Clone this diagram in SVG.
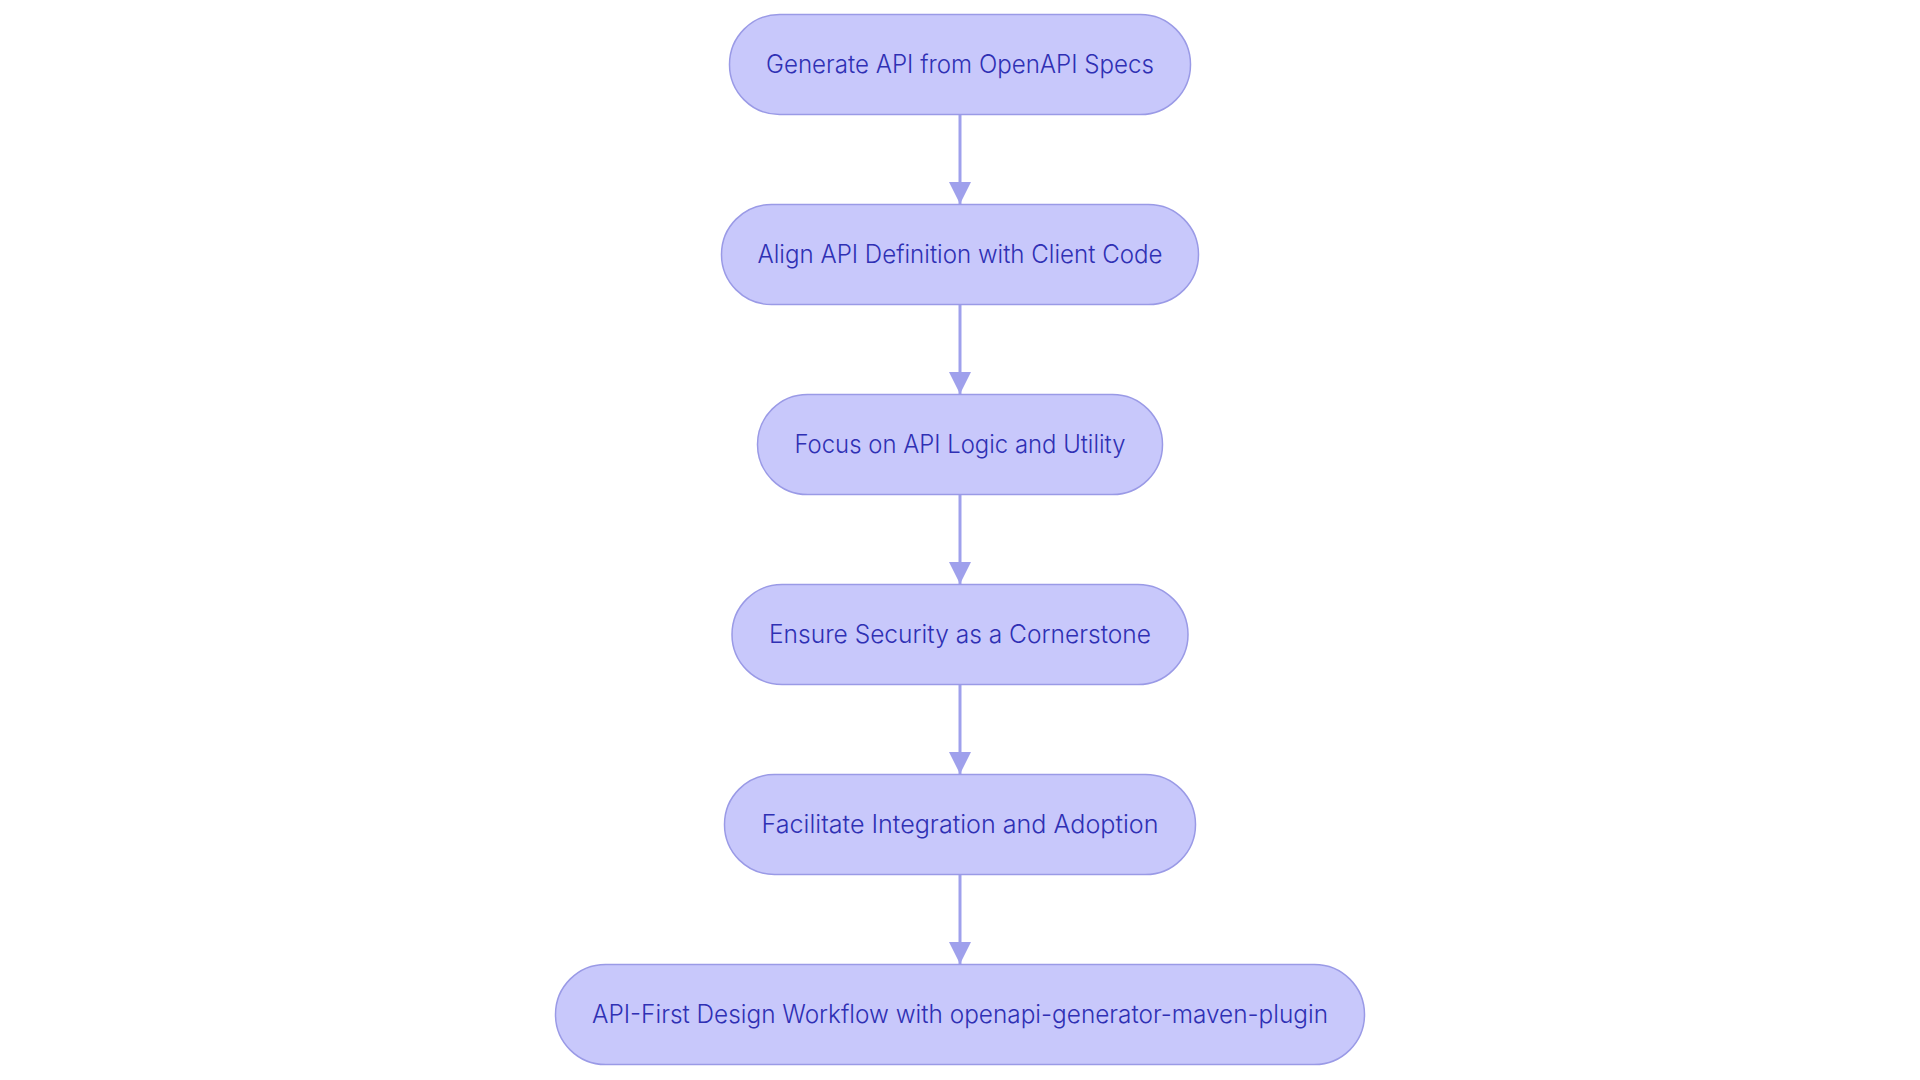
<svg xmlns="http://www.w3.org/2000/svg" width="1920" height="1080" viewBox="0 0 1920 1080">
<defs>
<style>
.node rect{fill:#c8c8fb;stroke:#9a9ae6;stroke-width:1.5}
.node text{font-family:Inter,"Noto Sans",sans-serif;font-size:25px;font-weight:300;fill:#2f30b4;text-anchor:middle}
.edge{stroke:#9fa0ec;stroke-width:3;fill:none}
</style>
<marker id="arr" markerUnits="userSpaceOnUse" markerWidth="24" markerHeight="22" refX="22" refY="11" orient="auto">
<path d="M0,0 L22,11 L0,22 Z" fill="#9fa0ec"/>
</marker>
</defs>
<rect width="1920" height="1080" fill="#ffffff"/>
<g id="connectors">
<line class="edge" x1="960" y1="115" x2="960" y2="204" marker-end="url(#arr)"/>
<line class="edge" x1="960" y1="305" x2="960" y2="394" marker-end="url(#arr)"/>
<line class="edge" x1="960" y1="495" x2="960" y2="584" marker-end="url(#arr)"/>
<line class="edge" x1="960" y1="685" x2="960" y2="774" marker-end="url(#arr)"/>
<line class="edge" x1="960" y1="875" x2="960" y2="964" marker-end="url(#arr)"/>
</g>
<g id="n1" class="node"><rect x="729.5" y="14.5" width="461" height="100" rx="50"/><text x="960" y="73" textLength="388" lengthAdjust="spacingAndGlyphs">Generate API from OpenAPI Specs</text></g>
<g id="n2" class="node"><rect x="721.5" y="204.5" width="477" height="100" rx="50"/><text x="960" y="263" textLength="405" lengthAdjust="spacingAndGlyphs">Align API Definition with Client Code</text></g>
<g id="n3" class="node"><rect x="757.5" y="394.5" width="405" height="100" rx="50"/><text x="960" y="453" textLength="331" lengthAdjust="spacingAndGlyphs">Focus on API Logic and Utility</text></g>
<g id="n4" class="node"><rect x="732" y="584.5" width="456" height="100" rx="50"/><text x="960" y="643" textLength="382" lengthAdjust="spacingAndGlyphs">Ensure Security as a Cornerstone</text></g>
<g id="n5" class="node"><rect x="724.5" y="774.5" width="471" height="100" rx="50"/><text x="960" y="833" textLength="397" lengthAdjust="spacingAndGlyphs">Facilitate Integration and Adoption</text></g>
<g id="n6" class="node"><rect x="555.5" y="964.5" width="809" height="100" rx="50"/><text x="960" y="1023" textLength="736" lengthAdjust="spacingAndGlyphs">API-First Design Workflow with openapi-generator-maven-plugin</text></g>
</svg>
